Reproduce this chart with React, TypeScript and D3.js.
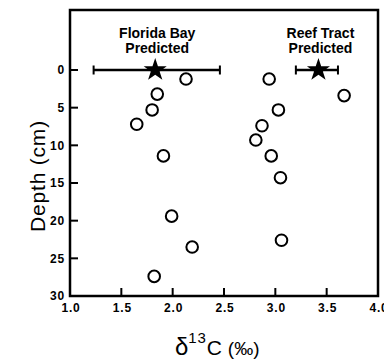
import React from "react";
import * as d3 from "d3";

// Measured sediment samples
const bayX = [2.13, 1.85, 1.8, 1.65, 1.91, 1.99, 2.19, 1.82];
const bayDepth = [1.2, 3.2, 5.3, 7.2, 11.4, 19.4, 23.5, 27.4];
const reefX = [2.94, 3.67, 3.03, 2.87, 2.81, 2.96, 3.05, 3.06];
const reefDepth = [1.2, 3.4, 5.3, 7.4, 9.3, 11.4, 14.3, 22.6];

// Predicted values with range
const predNames = ["Florida Bay", "Reef Tract"];
const predX = [1.83, 3.42];
const predLo = [1.23, 3.2];
const predHi = [2.46, 3.61];

const xTicks = [1.0, 1.5, 2.0, 2.5, 3.0, 3.5, 4.0];
const yTicks = [0, 5, 10, 15, 20, 25, 30];

const W = 384;
const H = 360;
const margin = { left: 70, right: 6, top: 10, bottom: 64 };
const font = "'Liberation Sans', Arial, Helvetica, sans-serif";

export default function App() {
  const x = d3.scaleLinear().domain([1, 4]).range([margin.left, W - margin.right]);
  const y = d3.scaleLinear().domain([0, 30]).range([70, H - margin.bottom]);
  const top = margin.top;
  const bottom = y(30);
  const star = d3.symbol().type(d3.symbolStar).size(165)()!;

  const circles = [
    ...bayX.map((v, i) => [v, bayDepth[i]]),
    ...reefX.map((v, i) => [v, reefDepth[i]]),
  ];

  return (
    <svg
      width={W}
      height={H}
      style={{ position: "absolute", left: 0, top: 0, background: "#fff" }}
      fontFamily={font}
    >
      <rect
        x={x(1)}
        y={top}
        width={x(4) - x(1)}
        height={bottom - top}
        fill="none"
        stroke="#000"
        strokeWidth={2.5}
      />
      {/* y ticks */}
      {yTicks.map((t) => (
        <g key={"y" + t}>
          <line x1={x(1)} x2={x(1) + 8} y1={y(t)} y2={y(t)} stroke="#000" strokeWidth={2} />
          <text
            x={x(1) - 5}
            y={y(t)}
            dy="0.36em"
            textAnchor="end"
            fontSize={12}
            fontWeight="bold"
            letterSpacing={0.8}
          >
            {t}
          </text>
        </g>
      ))}
      {/* x ticks */}
      {xTicks.map((t) => (
        <g key={"x" + t}>
          <line x1={x(t)} x2={x(t)} y1={bottom} y2={bottom - 8} stroke="#000" strokeWidth={2} />
          <text
            x={x(t) + 1}
            y={bottom + 16}
            textAnchor="middle"
            fontSize={12}
            fontWeight="bold"
            letterSpacing={0.8}
          >
            {t.toFixed(1)}
          </text>
        </g>
      ))}
      {/* predicted ranges */}
      {predX.map((v, i) => (
        <g key={"p" + i}>
          <line x1={x(predLo[i])} x2={x(predHi[i])} y1={y(0)} y2={y(0)} stroke="#000" strokeWidth={2.5} />
          <line x1={x(predLo[i])} x2={x(predLo[i])} y1={y(0) - 4.5} y2={y(0) + 4.5} stroke="#000" strokeWidth={2} />
          <line x1={x(predHi[i])} x2={x(predHi[i])} y1={y(0) - 4.5} y2={y(0) + 4.5} stroke="#000" strokeWidth={2} />
          <path d={star} transform={`translate(${x(v)},${y(0)})`} fill="#000" />
          <text x={x(v) + 2} y={38} textAnchor="middle" fontSize={14} fontWeight="bold">
            {predNames[i]}
          </text>
          <text x={x(v) + 2} y={53} textAnchor="middle" fontSize={14} fontWeight="bold">
            Predicted
          </text>
        </g>
      ))}
      {circles.map(([v, d], i) => (
        <circle key={"c" + i} cx={x(v)} cy={y(d)} r={5.8} fill="#fff" stroke="#000" strokeWidth={2} />
      ))}
      {/* axis titles */}
      <text
        transform={`translate(45,176) rotate(-90)`}
        textAnchor="middle"
        fontSize={21}
        letterSpacing={0.8}
      >
        Depth (cm)
      </text>
      <text x={175} y={355} fontSize={24}>
        δ<tspan fontSize={15} dy={-12} letterSpacing={0.8}>13</tspan>
        <tspan fontSize={21} dy={12}>C</tspan>
        <tspan fontSize={19} dx={6}>(‰)</tspan>
      </text>
    </svg>
  );
}
